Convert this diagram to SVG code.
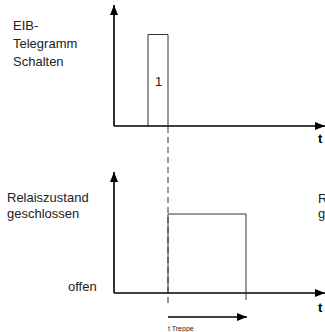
<svg xmlns="http://www.w3.org/2000/svg" width="325" height="332" viewBox="0 0 325 332">
<style>
.lbl{font-family:"Liberation Sans",Arial,sans-serif;font-size:13px;fill:#222}
.small{font-family:"Liberation Sans",Arial,sans-serif;font-size:7px;fill:#222}
.bold{font-family:"Liberation Sans",Arial,sans-serif;font-size:13px;font-weight:bold;fill:#000}
.axis{stroke:#000;stroke-width:1.6;fill:none}
.sig{stroke:#333;stroke-width:1;fill:none}
.dash{stroke:#333;stroke-width:1;fill:none;stroke-dasharray:6 4}
</style>
<defs>
<marker id="ah" viewBox="0 0 10 8" refX="10" refY="4" markerWidth="7.5" markerHeight="6" markerUnits="userSpaceOnUse" orient="auto"><path d="M0,0 L10,4 L0,8 Z" fill="#000"/></marker>
<marker id="ahb" viewBox="0 0 10 8" refX="10" refY="4" markerWidth="13" markerHeight="8" markerUnits="userSpaceOnUse" orient="auto"><path d="M0,0 L10,4 L0,8 Z" fill="#000"/></marker>
</defs>
<rect width="325" height="332" fill="#fff"/>
<g id="labels-top">
<text class="lbl" x="13" y="30">EIB-</text>
<text class="lbl" x="13" y="48">Telegramm</text>
<text class="lbl" x="13" y="66">Schalten</text>
</g>
<g id="labels-bottom">
<text class="lbl" x="7" y="202">Relaiszustand</text>
<text class="lbl" x="7" y="218">geschlossen</text>
<text class="lbl" x="68" y="291">offen</text>
</g>
<g id="pulse">
<path class="sig" d="M148,126 V34.5 H168 V126"/>
<text class="lbl" x="155" y="86" font-size="12">1</text>
</g>
<g id="relay">
<path class="sig" d="M168,293 V214 H246 V293"/>
</g>
<g id="connectors">
<path class="axis" d="M114,126 V5" marker-end="url(#ahb)"/>
<path class="axis" d="M114,126 H325" marker-end="url(#ahb)"/>
<path class="axis" d="M114,293 V172" marker-end="url(#ahb)"/>
<path class="axis" d="M114,293 H325" marker-end="url(#ahb)"/>
<path class="dash" d="M168,127 V304"/>
<path class="dash" d="M246,294 V304"/>
<path class="axis" stroke-width="1.2" d="M168,317 H247" marker-end="url(#ahb)"/>
</g>
<g id="t-labels">
<text class="small" x="168" y="331">t Treppe</text>
<text class="bold" x="318" y="143">t</text>
<text class="bold" x="318" y="312">t</text>
<text class="lbl" x="318" y="203">R</text>
<text class="lbl" x="318" y="218">g</text>
</g>
</svg>
